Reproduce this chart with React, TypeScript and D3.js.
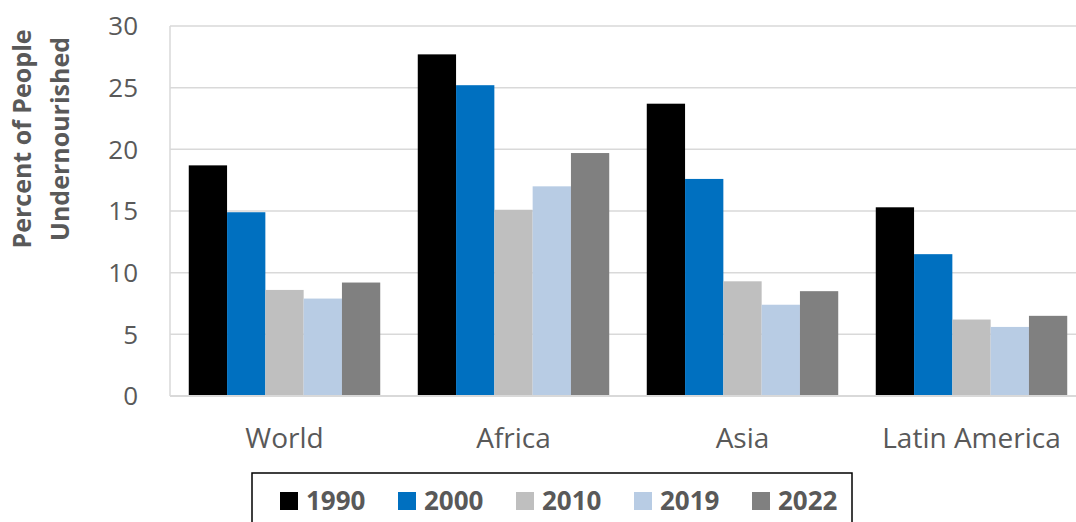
import React, { useEffect, useRef } from 'react'
import * as d3 from 'd3'

const regions = ['World', 'Africa', 'Asia', 'Latin America']
const years = ['1990', '2000', '2010', '2019', '2022']
const yearColors = ['#000000', '#0070C0', '#BFBFBF', '#B8CCE4', '#808080']

// percent undernourished, one array per year, in region order
const v1990 = [18.7, 27.7, 23.7, 15.3]
const v2000 = [14.9, 25.2, 17.6, 11.5]
const v2010 = [8.6, 15.1, 9.3, 6.2]
const v2019 = [7.9, 17.0, 7.4, 5.6]
const v2022 = [9.2, 19.7, 8.5, 6.5]
const seriesValues = [v1990, v2000, v2010, v2019, v2022]

const yTicks = [0, 5, 10, 15, 20, 25, 30]

const W = 1076
const H = 522
const FONT = '"Open Sans", "Liberation Sans", sans-serif'
const TEXT = '#595959'

export default function App() {
  const svgRef = useRef<SVGSVGElement>(null)

  useEffect(() => {
    if (!svgRef.current) return
    const svg = d3.select(svgRef.current)
    svg.selectAll('*').remove()

    const left = 170
    const top = 26
    const bottom = 396
    const right = left + 229 * regions.length

    const x = d3.scaleBand<string>().domain(regions).range([left, right]).padding(0)
    const xi = d3.scaleBand<string>().domain(years).range([0, x.bandwidth()]).paddingInner(0).paddingOuter(0.49)
    const y = d3.scaleLinear().domain([0, 30]).range([bottom, top])

    // gridlines
    svg.append('g')
      .selectAll('line')
      .data(yTicks)
      .join('line')
      .attr('x1', left)
      .attr('x2', W)
      .attr('y1', (d) => y(d))
      .attr('y2', (d) => y(d))
      .attr('stroke', '#D9D9D9')
      .attr('stroke-width', 1.5)

    // left axis line
    svg.append('line')
      .attr('x1', left).attr('x2', left)
      .attr('y1', top).attr('y2', bottom)
      .attr('stroke', '#D9D9D9')
      .attr('stroke-width', 1.5)

    // bars
    const rows = regions.flatMap((r, ri) =>
      years.map((yr, yi) => ({ region: r, year: yr, value: seriesValues[yi][ri], color: yearColors[yi] }))
    )
    svg.append('g')
      .selectAll('rect')
      .data(rows)
      .join('rect')
      .attr('x', (d) => (x(d.region) || 0) + (xi(d.year) || 0))
      .attr('y', (d) => y(d.value))
      .attr('width', xi.bandwidth())
      .attr('height', (d) => bottom - y(d.value))
      .attr('fill', (d) => d.color)

    // bottom axis line
    svg.append('line')
      .attr('x1', left).attr('x2', W)
      .attr('y1', bottom).attr('y2', bottom)
      .attr('stroke', '#D9D9D9')
      .attr('stroke-width', 2)

    // y tick labels
    svg.append('g')
      .selectAll('text')
      .data(yTicks)
      .join('text')
      .attr('x', 138)
      .attr('y', (d) => y(d))
      .attr('dy', '0.36em')
      .attr('text-anchor', 'end')
      .attr('font-family', FONT)
      .attr('font-size', 26)
      .attr('fill', TEXT)
      .text((d) => d)

    // category labels
    svg.append('g')
      .selectAll('text')
      .data(regions)
      .join('text')
      .attr('x', (d) => (x(d) || 0) + x.bandwidth() / 2)
      .attr('y', 448)
      .attr('text-anchor', 'middle')
      .attr('font-family', FONT)
      .attr('font-size', 28)
      .attr('fill', TEXT)
      .text((d) => d)

    // y title
    const title = svg.append('text')
      .attr('transform', 'translate(41,139) rotate(-90)')
      .attr('text-anchor', 'middle')
      .attr('font-family', FONT)
      .attr('font-size', 25)
      .attr('font-weight', 'bold')
      .attr('fill', TEXT)
    title.append('tspan').attr('x', 0).attr('y', -10).text('Percent of People')
    title.append('tspan').attr('x', 0).attr('y', 28).text('Undernourished')

    // legend
    svg.append('rect')
      .attr('x', 252).attr('y', 473)
      .attr('width', 600).attr('height', 70)
      .attr('fill', 'white')
      .attr('stroke', '#000')
      .attr('stroke-width', 1.5)

    const lx = d3.scalePoint<string>().domain(years).range([280, 752])
    const items = svg.append('g')
      .selectAll('g')
      .data(years)
      .join('g')
      .attr('transform', (d) => `translate(${lx(d)},0)`)
    items.append('rect')
      .attr('x', 0).attr('y', 492)
      .attr('width', 18).attr('height', 18)
      .attr('fill', (_, i) => yearColors[i])
    items.append('text')
      .attr('x', 26).attr('y', 501)
      .attr('dy', '0.36em')
      .attr('font-family', FONT)
      .attr('font-size', 26)
      .attr('font-weight', 'bold')
      .attr('fill', TEXT)
      .text((d) => d)
  }, [])

  return (
    <svg
      ref={svgRef}
      width={W}
      height={H}
      style={{ position: 'absolute', left: 0, top: 0, background: 'white' }}
    />
  )
}
